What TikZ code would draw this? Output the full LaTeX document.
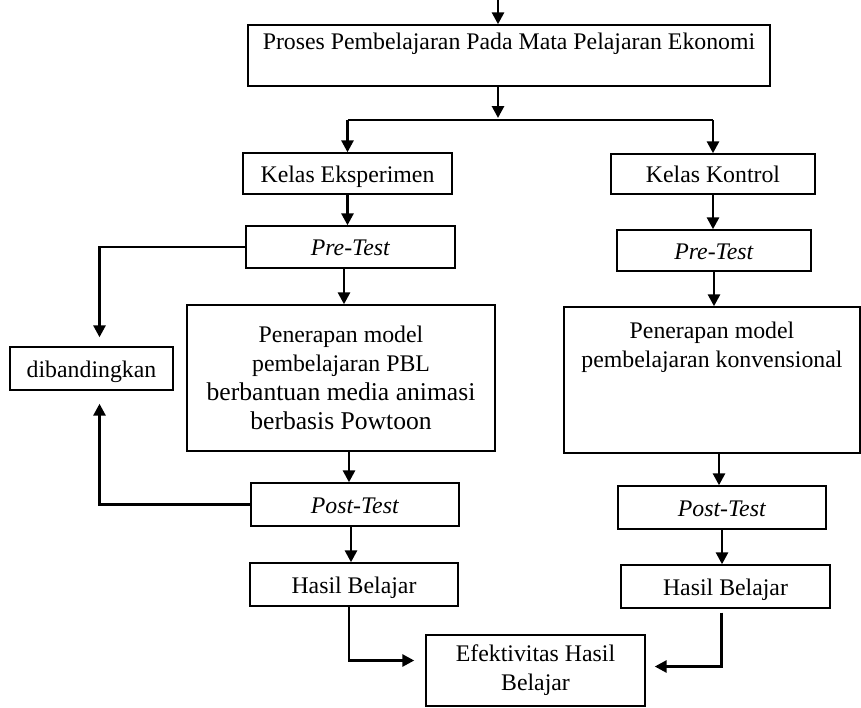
\documentclass[tikz,border=0pt]{standalone}
\usepackage{fontspec}
\setmainfont{Liberation Serif}
\usetikzlibrary{arrows.meta,positioning,calc}

\begin{document}
\begin{tikzpicture}[x=0.5pt, y=-0.5pt, every node/.style={font=\fontsize{11.9}{14.5}\selectfont}]
  % Flowchart of the learning process: experiment class vs. control class
  \tikzstyle{box} = [rectangle, draw, line width=0.7pt, inner sep=2pt, align=center]
  \tikzstyle{cell} = [box, text height=9.5pt, text depth=1pt]
  \tikzstyle{flow} = [line width=1.4pt, -{Triangle[width=6pt,length=6pt]}]
  \tikzstyle{link} = [line width=1.4pt]
  \useasboundingbox (0,0) rectangle (861,707);

  % Top box and split into two classes
  \coordinate (start) at (498,0);
  \node[box, minimum width=261pt, minimum height=30.5pt] (proses) at (509,55.5) {Proses Pembelajaran Pada Mata Pelajaran Ekonomi\\ \mbox{}};
  \coordinate (split) at (498,120);

  % Experiment class (left)
  \node[cell, minimum width=104.5pt, minimum height=20.5pt] (eks) at (347.5,173.5) {Kelas Eksperimen};
  \node[cell, minimum width=104.5pt, minimum height=21pt] (preE) at (350.5,247) {\textit{Pre-Test}};
  \node[box, minimum width=154pt, minimum height=73pt] (pbl) at (341,378) {Penerapan model\\ pembelajaran PBL\\ {\fontsize{12.8}{15}\selectfont berbantuan media animasi}\\ {\fontsize{12.8}{15}\selectfont berbasis Powtoon}};
  \node[cell, minimum width=104pt, minimum height=21.5pt] (postE) at (355,504.5) {\textit{Post-Test}};
  \node[cell, minimum width=104pt, minimum height=21.5pt] (hasilE) at (354,584.5) {Hasil Belajar};
  \node[cell, minimum width=81.5pt, minimum height=21.5pt] (banding) at (91.5,368.5) {dibandingkan};

  % Control class (right)
  \node[cell, minimum width=102pt, minimum height=20pt] (kon) at (713,174) {Kelas Kontrol};
  \node[cell, minimum width=97pt, minimum height=20.5pt] (preK) at (714,250.5) {\textit{Pre-Test}};
  \node[box, minimum width=148pt, minimum height=73pt] (konv) at (712,380) {Penerapan model\\ pembelajaran konvensional\\[21pt] \mbox{}};
  \node[cell, minimum width=104pt, minimum height=21.5pt] (postK) at (722,507.5) {\textit{Post-Test}};
  \node[cell, minimum width=104.5pt, minimum height=21.5pt] (hasilK) at (725.5,586.5) {Hasil Belajar};

  % Result
  \node[box, minimum width=109.5pt, minimum height=35.5pt] (efek) at (535.5,670.5) {Efektivitas Hasil\\ Belajar};

  % Connectors
  \draw[flow] (start) -- (start |- proses.north);
  \draw[flow, shorten >=1pt] (start |- proses.south) -- (split);
  \draw[link] (eks.north |- split) -- (kon.north |- split);
  \draw[flow] (eks.north |- split) -- (eks.north);
  \draw[flow] (kon.north |- split) -- (kon.north);

  \draw[flow] (eks.south) -- (eks.south |- preE.north);
  \draw[flow] ([xshift=1.5pt]pbl.north |- preE.south) -- ([xshift=1.5pt]pbl.north);
  \draw[flow] ([xshift=4pt]pbl.south) -- ([xshift=4pt]pbl.south |- postE.north);
  \draw[flow] ([xshift=-2pt]postE.south) -- ([xshift=-2pt]postE.south |- hasilE.north);
  \draw[flow, shorten >=4.5pt] (preE.west) -| ([xshift=4pt]banding.north);
  \draw[flow, shorten >=6.5pt] (postE.west) -| ([xshift=4pt]banding.south);

  \draw[flow] (kon.south) -- (kon.south |- preK.north);
  \draw[flow] (preK.south) -- (preK.south |- konv.north);
  \draw[flow] ([xshift=3.5pt]konv.south) -- ([xshift=3.5pt]konv.south |- postK.north);
  \draw[flow] (postK.south) -- (postK.south |- hasilK.north);

  \draw[flow, shorten >=5.5pt] ([xshift=-2.5pt]hasilE.south) |- ([yshift=5pt]efek.west);
  \draw[flow, shorten >=4.5pt] ([xshift=-2pt,yshift=-2pt]hasilK.south) |- ([yshift=2pt]efek.east);

\end{tikzpicture}
\end{document}
